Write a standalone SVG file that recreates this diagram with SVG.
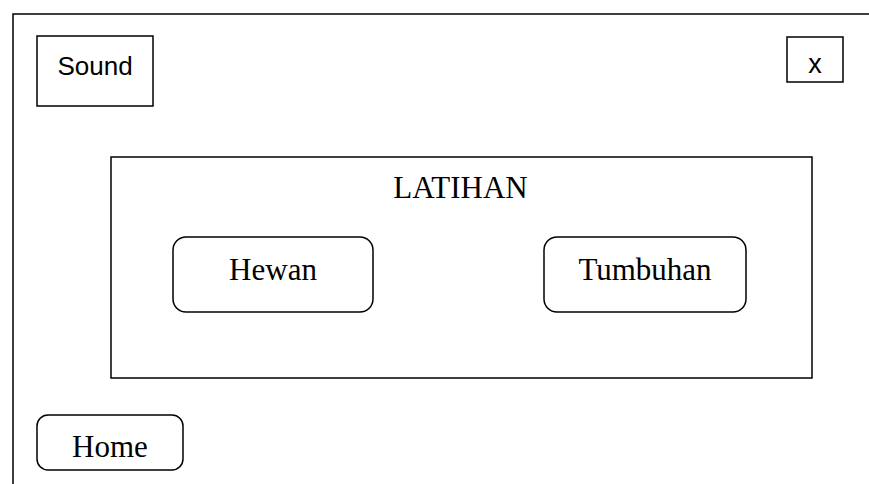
<svg xmlns="http://www.w3.org/2000/svg" width="869" height="484" viewBox="0 0 869 484">
  <style>
    .box { fill: #ffffff; stroke: #000000; stroke-width: 1.5; }
    .frame { fill: none; stroke: #000000; stroke-width: 1.5; }
    .sans { font-family: "Liberation Sans", Arial, sans-serif; font-size: 26px; fill: #000000; text-anchor: middle; }
    .serif { font-family: "Liberation Serif", "Times New Roman", serif; font-size: 31px; fill: #000000; text-anchor: middle; }
  </style>
  <rect width="869" height="484" fill="#ffffff"/>

  <!-- screen frame (open on the right and bottom) -->
  <path class="frame" d="M13,484 V14 H869"/>

  <g id="sound">
    <rect class="box" x="37" y="36" width="116" height="70"/>
    <text class="sans" x="95" y="75">Sound</text>
  </g>

  <g id="close">
    <rect class="box" x="787" y="37" width="56" height="45"/>
    <text class="sans" x="815" y="73" style="font-size:27px">x</text>
  </g>

  <g id="latihan">
    <rect class="box" x="111" y="157" width="701" height="221"/>
    <text class="serif" x="460.5" y="198">LATIHAN</text>
  </g>

  <g id="hewan">
    <rect class="box" x="173" y="237" width="200" height="75" rx="13" ry="13"/>
    <text class="serif" x="273" y="280">Hewan</text>
  </g>

  <g id="tumbuhan">
    <rect class="box" x="544" y="237" width="202" height="75" rx="13" ry="13"/>
    <text class="serif" x="645" y="280">Tumbuhan</text>
  </g>

  <g id="home">
    <rect class="box" x="37" y="415" width="146" height="55" rx="11" ry="11"/>
    <text class="serif" x="110" y="457">Home</text>
  </g>

  <g id="connectors"></g>
</svg>
